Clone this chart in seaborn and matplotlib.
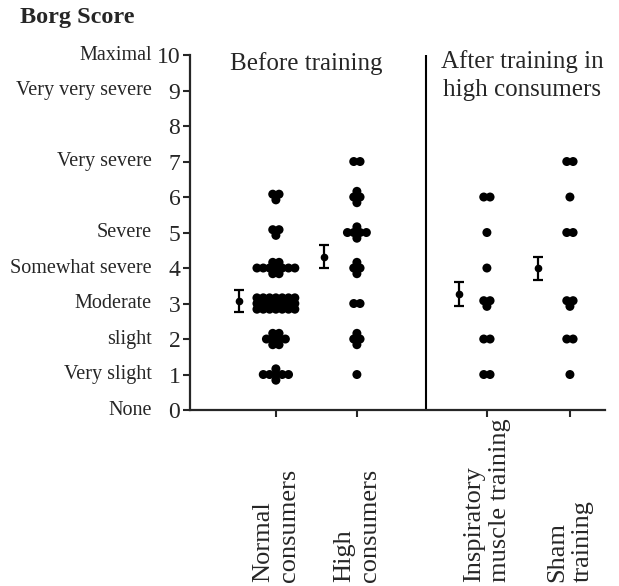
import numpy as np
import pandas as pd
import matplotlib.pyplot as plt
import matplotlib.transforms as mtransforms
import seaborn as sns

# Borg scores 1..7, number of subjects at each score
scores = [1, 2, 3, 4, 5, 6, 7]
normal_counts = [7, 8, 21, 11, 3, 3, 0]
high_counts = [1, 4, 2, 4, 6, 4, 2]
imt_counts = [2, 2, 3, 1, 1, 2, 0]
sham_counts = [1, 2, 3, 0, 2, 1, 2]

# mean and error bar half-length of each group
group_means = [3.07, 4.32, 3.27, 3.99]
group_errs = [0.32, 0.33, 0.33, 0.32]

groups = ['Normal\nconsumers', 'High\nconsumers',
          'Inspiratory\nmuscle training', 'Sham\ntraining']
borg_ticks = list(range(11))
borg_words = ['None', 'Very slight', 'slight', 'Moderate', 'Somewhat severe',
              'Severe', '', 'Very severe', '', 'Very very severe', 'Maximal']

# layout
group_pos = [1.0, 2.0, 3.605, 4.63]
err_pos = [0.55, 1.59, 3.26, 4.24]
divider_x = 2.85
dx, dy = 0.078, 0.16


def cluster(n):
    # compact packing of n dots around one score, like the original figure
    if n == 1:
        rows = [1]
    elif n == 2:
        rows = [2]
    elif n == 3:
        rows = [2, 1]
    elif n > 14:
        rows = [n // 3, n - 2 * (n // 3), n // 3]
    else:
        side = 2 if n >= 8 else 1
        rows = [side, n - 2 * side, side]
    offs = []
    for r, k in enumerate(rows):
        yo = ((len(rows) - 1) / 2 - r)
        for j in range(k):
            offs.append(((j - (k - 1) / 2) * dx, yo * dy))
    return offs


rows = []
for gi, counts in enumerate([normal_counts, high_counts, imt_counts, sham_counts]):
    for s, c in zip(scores, counts):
        for ox, oy in cluster(c) if c else []:
            rows.append({'group': groups[gi], 'score': s,
                         'xp': group_pos[gi] + ox, 'yp': s + oy})
df = pd.DataFrame(rows)

sns.set_style('ticks')
plt.rcParams['font.family'] = ['Liberation Serif', 'DejaVu Serif']

fig = plt.figure(figsize=(6.19, 5.86), dpi=100)
ax = fig.add_axes([0.307, 0.3003, 0.670, 0.6058])

sns.scatterplot(data=df, x='xp', y='yp', color='black', s=42,
                edgecolor='none', legend=False, ax=ax, clip_on=False)
ax.errorbar(err_pos, group_means, yerr=group_errs, fmt='o', color='black',
            markersize=4.5, capsize=3.5, elinewidth=1.6, capthick=1.6)

ax.axvline(divider_x, ymin=0, ymax=1, color='black', linewidth=1.5)

ax.set_xlim(-0.06, 5.06)
ax.set_ylim(0, 10)
ax.set_yticks(borg_ticks)
ax.set_yticklabels([str(t) for t in borg_ticks], fontsize=17)
ax.set_xticks(group_pos)
ax.set_xticklabels([])
ax.set_xlabel('')
ax.set_ylabel('')
sns.despine(ax=ax)
for sp in ['left', 'bottom']:
    ax.spines[sp].set_linewidth(1.6)
ax.tick_params(axis='both', direction='out', length=5, width=1.5, pad=2)

ty = mtransforms.blended_transform_factory(ax.transAxes, ax.transData)
for t, w in zip(borg_ticks, borg_words):
    if w:
        ax.text(-0.0916, t, w, transform=ty, ha='right', va='center',
                fontsize=14.5)

tx = mtransforms.blended_transform_factory(ax.transData, fig.transFigure)
for p, g in zip(group_pos, groups):
    ax.text(p, 0.006, g, transform=tx, rotation=90, ha='center', va='bottom',
            multialignment='left', fontsize=19, linespacing=1.2)

ax.text(1.38, 9.77, 'Before training', ha='center', va='center', fontsize=18)
ax.text(4.04, 10.14, 'After training in\nhigh consumers', ha='center', va='top',
        fontsize=18, linespacing=1.35, clip_on=False)

fig.text(20 / 619, 1 - 18 / 586, 'Borg Score', fontweight='bold', fontsize=17.5,
         ha='left', va='center')

fig.savefig('out.png', dpi=100)
